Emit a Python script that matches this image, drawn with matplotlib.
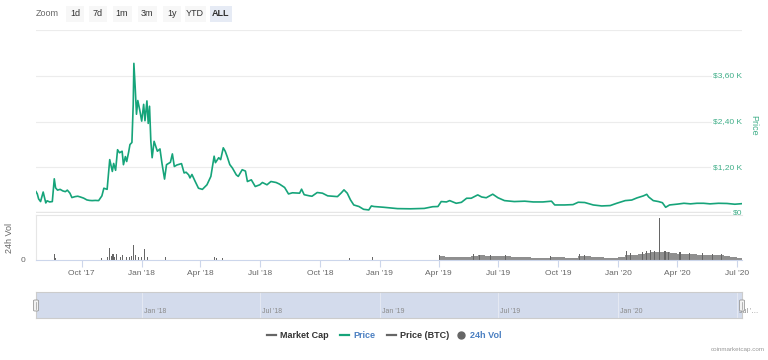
import pandas as pd
import numpy as np
import matplotlib
matplotlib.use('Agg')
import matplotlib.pyplot as plt
import matplotlib.transforms as mtransforms
from matplotlib.patches import FancyBboxPatch, Rectangle
from matplotlib.lines import Line2D

plt.rcParams['font.family'] = ['Liberation Sans', 'DejaVu Sans']

# price in USD
price_dates = [
    '2017-07-23', '2017-07-25', '2017-07-27', '2017-07-30', '2017-08-03', '2017-08-07', '2017-08-09', '2017-08-13', '2017-08-17', '2017-08-20',
    '2017-08-22', '2017-08-25', '2017-08-29', '2017-09-02', '2017-09-06', '2017-09-09', '2017-09-13', '2017-09-16', '2017-09-21', '2017-09-25',
    '2017-09-29', '2017-10-04', '2017-10-09', '2017-10-13', '2017-10-17', '2017-10-22', '2017-10-27', '2017-11-01', '2017-11-04', '2017-11-09',
    '2017-11-11', '2017-11-13', '2017-11-17', '2017-11-19', '2017-11-22', '2017-11-25', '2017-11-28', '2017-12-02', '2017-12-04', '2017-12-07',
    '2017-12-09', '2017-12-12', '2017-12-14', '2017-12-17', '2017-12-19', '2017-12-20', '2017-12-22', '2017-12-24', '2017-12-26', '2017-12-29',
    '2018-01-01', '2018-01-04', '2018-01-06', '2018-01-09', '2018-01-11', '2018-01-13', '2018-01-15', '2018-01-17', '2018-01-20', '2018-01-25',
    '2018-01-29', '2018-02-01', '2018-02-05', '2018-02-08', '2018-02-14', '2018-02-17', '2018-02-20', '2018-02-24', '2018-03-03', '2018-03-07',
    '2018-03-10', '2018-03-14', '2018-03-16', '2018-03-19', '2018-03-24', '2018-03-29', '2018-04-04', '2018-04-11', '2018-04-17', '2018-04-22',
    '2018-04-24', '2018-04-29', '2018-05-02', '2018-05-06', '2018-05-09', '2018-05-12', '2018-05-16', '2018-05-20', '2018-05-26', '2018-05-29',
    '2018-06-04', '2018-06-09', '2018-06-12', '2018-06-18', '2018-06-24', '2018-07-01', '2018-07-05', '2018-07-12', '2018-07-18', '2018-07-26',
    '2018-07-31', '2018-08-08', '2018-08-14', '2018-08-20', '2018-08-31', '2018-09-03', '2018-09-07', '2018-09-15', '2018-09-19', '2018-09-27',
    '2018-10-05', '2018-10-13', '2018-10-20', '2018-10-28', '2018-11-03', '2018-11-07', '2018-11-12', '2018-11-17', '2018-11-22', '2018-11-30',
    '2018-12-07', '2018-12-15', '2018-12-19', '2018-12-23', '2019-01-07', '2019-01-28', '2019-02-17', '2019-03-10', '2019-03-23', '2019-03-31',
    '2019-04-05', '2019-04-13', '2019-04-18', '2019-04-28', '2019-05-06', '2019-05-14', '2019-05-21', '2019-05-31', '2019-06-06', '2019-06-13',
    '2019-06-23', '2019-07-01', '2019-07-11', '2019-07-26', '2019-08-11', '2019-08-24', '2019-09-08', '2019-09-21', '2019-09-26', '2019-10-11',
    '2019-10-24', '2019-11-01', '2019-11-11', '2019-11-24', '2019-12-07', '2019-12-20', '2019-12-30', '2020-01-12', '2020-01-22', '2020-01-30',
    '2020-02-09', '2020-02-14', '2020-02-17', '2020-02-24', '2020-03-03', '2020-03-09', '2020-03-14', '2020-03-20', '2020-04-01', '2020-04-11',
    '2020-04-21', '2020-05-01', '2020-05-11', '2020-05-21', '2020-06-03', '2020-06-16', '2020-06-28', '2020-07-09',
]
price_values = [
    560, 500, 370, 300, 550, 264, 320, 290, 300, 897,
    660, 600, 620, 580, 560, 600, 520, 405, 430, 440,
    420, 390, 343, 330, 325, 330, 325, 450, 650, 620,
    1000, 1400, 1090, 1300, 1120, 1660, 1580, 1620, 1267, 1480,
    1350, 1600, 1795, 1850, 2850, 3925, 3300, 2590, 2950, 2700,
    2410, 2850, 2420, 2940, 2350, 2800, 1880, 1450, 1880, 1620,
    1680, 1310, 890, 1267, 1330, 1550, 1220, 1260, 1295, 1050,
    1070, 1000, 920, 1010, 826, 650, 620, 740, 960, 1490,
    1320, 1450, 1400, 1710, 1620, 1480, 1270, 1180, 1000, 960,
    1135, 1100, 826, 870, 695, 740, 800, 740, 826, 800,
    760, 670, 500, 530, 520, 625, 480, 450, 440, 537,
    520, 450, 440, 430, 530, 607, 520, 343, 211, 170,
    97, 80, 185, 170, 150, 115, 110, 120, 165, 170,
    300, 290, 325, 255, 280, 387, 387, 475, 420, 400,
    493, 400, 325, 300, 310, 290, 290, 310, 211, 211,
    220, 282, 275, 211, 185, 195, 255, 325, 340, 396,
    450, 490, 420, 325, 300, 270, 150, 211, 233, 255,
    240, 255, 255, 240, 255, 250, 230, 245,
]

# 24h volume (B USD), single days that stand out
vol_spike_dates = ['2017-08-20', '2017-08-22', '2017-11-01', '2017-11-10', '2017-11-13', '2017-11-15', '2017-11-18', '2017-11-21',
                   '2017-11-24', '2017-11-29', '2017-12-03', '2017-12-08', '2017-12-14', '2017-12-17', '2017-12-20', '2017-12-22',
                   '2017-12-27', '2018-01-01', '2018-01-05', '2018-01-10', '2018-02-06', '2018-04-22', '2018-04-26', '2018-05-05',
                   '2018-11-15', '2018-12-20', '2019-04-03', '2019-05-25', '2019-06-02', '2019-06-20', '2019-07-12', '2019-09-20',
                   '2019-11-03', '2019-11-10', '2020-01-14', '2020-01-20', '2020-02-08', '2020-02-14', '2020-02-20', '2020-02-26',
                   '2020-03-04', '2020-03-13', '2020-03-18', '2020-04-05', '2020-04-20', '2020-05-10', '2020-05-25', '2020-06-08']
vol_spike_values = [6, 2, 2, 3, 11.7, 4, 5.7, 3,
                    5.7, 3, 5, 3, 3, 4, 15, 5,
                    3, 3, 10.7, 3, 3, 3, 2, 1.5,
                    2, 3, 4.5, 5.5, 5, 5, 4.5, 3.5,
                    5.5, 4.5, 9, 6.5, 8, 9, 9.5, 9,
                    41, 9, 8, 7.5, 7, 6.5, 6, 5.5]
# 24h volume (B USD), general level of the busy period
vol_base_dates = ['2019-04-01', '2019-04-11', '2019-04-21', '2019-05-01', '2019-05-11', '2019-05-21', '2019-06-01', '2019-06-11',
                  '2019-06-21', '2019-07-01', '2019-07-11', '2019-07-21', '2019-08-01', '2019-08-11', '2019-08-21', '2019-09-01',
                  '2019-09-11', '2019-09-21', '2019-10-01', '2019-10-11', '2019-10-21', '2019-11-01', '2019-11-11', '2019-11-21',
                  '2019-12-01', '2019-12-11', '2019-12-21', '2020-01-01', '2020-01-11', '2020-01-21', '2020-02-01', '2020-02-11',
                  '2020-02-21', '2020-03-01', '2020-03-11', '2020-03-21', '2020-04-01', '2020-04-11', '2020-04-21', '2020-05-01',
                  '2020-05-11', '2020-05-21', '2020-06-01', '2020-06-11', '2020-06-21', '2020-07-01', '2020-07-09']
vol_base_values = [3.5, 3, 2.5, 2.5, 3, 4, 4.5, 4,
                   3.5, 3.5, 3.5, 3, 2.5, 2.5, 2, 2,
                   2, 2.5, 2.5, 2, 2, 4, 3.5, 3,
                   2.5, 2, 2, 2.5, 5, 5, 6, 7,
                   7.5, 8, 8, 7, 6, 5.5, 5.5, 5,
                   5, 4.5, 4.5, 4, 3, 2, 1.5]

price_ticks = [0, 1200, 2400, 3600]
price_tick_labels = ['$0', '$1,20 K', '$2,40 K', '$3,60 K']
x_tick_dates = ['2017-10-01', '2018-01-01', '2018-04-01', '2018-07-01', '2018-10-01', '2019-01-01',
                '2019-04-01', '2019-07-01', '2019-10-01', '2020-01-01', '2020-04-01', '2020-07-01']
x_tick_labels = ["Oct '17", "Jan '18", "Apr '18", "Jul '18", "Oct '18", "Jan '19",
                 "Apr '19", "Jul '19", "Oct '19", "Jan '20", "Apr '20", "Jul '20"]
nav_dates = ['2018-01-01', '2018-07-01', '2019-01-01', '2019-07-01', '2020-01-01', '2020-07-01']
nav_labels = ["Jan '18", "Jul '18", "Jan '19", "Jul '19", "Jan '20", "Jul '…"]
zoom_buttons = ['1d', '7d', '1m', '3m', '1y', 'YTD', 'ALL']

GREEN = '#16a47a'
W, H = 768, 360
x0, x1 = pd.Timestamp('2017-07-23'), pd.Timestamp('2020-07-09')

fig = plt.figure(figsize=(W / 100, H / 100), dpi=100)
fig.patch.set_facecolor('white')

def fx(px):
    return px / W

def fy(py):
    return 1 - py / H

L, R = 36, 742

# price panel
ax = fig.add_axes([fx(L), fy(213), fx(R - L), fy(30) - fy(213)])
ax.plot(pd.to_datetime(price_dates), price_values, color=GREEN, lw=1.2, zorder=3)
ax.set_xlim(x0, x1)
ax.set_ylim(0, 4800)
for v in [1200, 2400, 3600, 4800]:
    ax.axhline(v, color='#ececec', lw=0.8, zorder=0)
ax.axhline(0, color='#e6e6e6', lw=2.5, zorder=1)
ax.axis('off')
trans = mtransforms.blended_transform_factory(ax.transAxes, ax.transData)
for v, lbl in zip(price_ticks, price_tick_labels):
    ax.text(1.0, v, lbl, transform=trans, ha='right', va='center', fontsize=6, color='#3fae88',
            bbox=dict(fc='white', ec='none', pad=1.0), zorder=4)
fig.text(fx(754), fy(125), 'Price', rotation=-90, ha='center', va='center', fontsize=6.5, color='#3fae88')

# volume panel
axv = fig.add_axes([fx(L), fy(260), fx(R - L), fy(215) - fy(260)])
base_d = pd.to_datetime(vol_base_dates)
axv.fill_between(base_d, vol_base_values, step='post', color='#8f8f8f', lw=0)
axv.bar(pd.to_datetime(vol_spike_dates), vol_spike_values, width=1.6, color='#666666', lw=0)
axv.set_xlim(x0, x1)
axv.set_ylim(0, 44)
axv.spines['right'].set_visible(False)
axv.spines['top'].set_color('#e6e6e6')
axv.spines['left'].set_color('#e6e6e6')
axv.spines['bottom'].set_color('#ccd6eb')
axv.set_yticks([0])
axv.set_yticklabels(['0'])
axv.tick_params(axis='y', length=0, pad=8, labelsize=6, labelcolor='#666666')
axv.set_xticks(pd.to_datetime(x_tick_dates))
axv.set_xticklabels(x_tick_labels)
axv.tick_params(axis='x', length=5, color='#ccd6eb', labelsize=6, labelcolor='#666666', pad=2)
fig.text(fx(10), fy(238), '24h Vol', rotation=90, ha='center', va='center', fontsize=6.5, color='#666666')

# navigator
axn = fig.add_axes([fx(L), fy(318), fx(R - L), fy(292) - fy(318)])
axn.set_facecolor('#d3dbec')
axn.set_xlim(x0, x1)
axn.set_ylim(0, 1)
for d, lbl in zip(pd.to_datetime(nav_dates), nav_labels):
    axn.axvline(d, color='#e4e8f2', lw=0.8)
    axn.text(d + pd.Timedelta(days=3), 0.1, lbl, fontsize=5, color='#8a8a8a', ha='left', va='bottom')
axn.set_xticks([])
axn.set_yticks([])
for s in axn.spines.values():
    s.set_color('#cccccc')
    s.set_linewidth(0.8)
for hx in [L, R]:
    fig.patches.append(FancyBboxPatch((fx(hx - 2.5), fy(311)), fx(5), fy(300) - fy(311),
                                      boxstyle='round,pad=0,rounding_size=0.002', fc='#f2f2f2', ec='#999999',
                                      lw=0.6, transform=fig.transFigure, figure=fig))
    fig.lines.append(Line2D([fx(hx), fx(hx)], [fy(309), fy(302)], color='#999999', lw=0.5,
                            transform=fig.transFigure, figure=fig))

# zoom buttons
fig.text(fx(36), fy(14), 'Zoom', fontsize=6.5, color='#666666', ha='left', va='center')
btn_x = [75, 98, 122, 147, 172, 195, 221]
btn_w = [18, 18, 19, 19, 18, 21, 22]
for lbl, cx, bw in zip(zoom_buttons, btn_x, btn_w):
    active = lbl == 'ALL'
    fig.patches.append(Rectangle((fx(cx - bw / 2), fy(22)), fx(bw), fy(6) - fy(22),
                                 fc='#e6ebf5' if active else '#f7f7f7', ec='none',
                                 transform=fig.transFigure, figure=fig))
    fig.text(fx(cx), fy(14), lbl, fontsize=6.5, color='#333333', ha='center', va='center',
             fontweight='bold' if active else 'normal')

# legend
ly = fy(335)
legend_items = [('Market Cap', '#666666', '#333333', 'line', 267),
                ('Price', GREEN, '#4a7fc1', 'line', 340),
                ('Price (BTC)', '#666666', '#333333', 'line', 387),
                ('24h Vol', '#666666', '#4a7fc1', 'dot', 457)]
for name, mcol, tcol, kind, px in legend_items:
    if kind == 'line':
        fig.lines.append(Line2D([fx(px), fx(px + 9)], [ly, ly], color=mcol, lw=1.6,
                                transform=fig.transFigure, figure=fig))
    else:
        fig.lines.append(Line2D([fx(px + 4)], [ly], marker='o', ms=5, color=mcol, lw=0,
                                transform=fig.transFigure, figure=fig))
    fig.text(fx(px + 13), ly, name, fontsize=6.5, fontweight='bold', color=tcol, ha='left', va='center')

fig.text(fx(765), fy(350), 'coinmarketcap.com', fontsize=4.5, color='#999999', ha='right', va='center')

fig.savefig('out.png', dpi=100, facecolor='white')
